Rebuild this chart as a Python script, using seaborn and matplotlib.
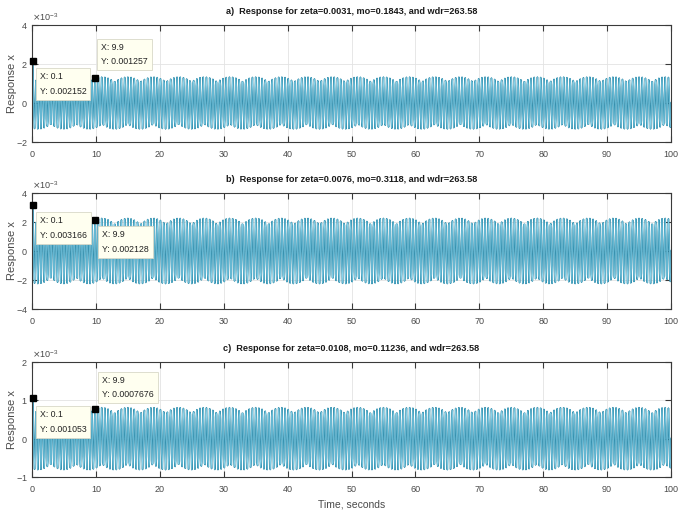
import numpy as np
import pandas as pd
import matplotlib
matplotlib.use("Agg")
import matplotlib.pyplot as plt
import seaborn as sns

# --- data -------------------------------------------------------------
panel_tags = ["a)", "b)", "c)"]
zeta_values = ["0.0031", "0.0076", "0.0108"]
mo_values = ["0.1843", "0.3118", "0.11236"]
wdr = 263.58                      # driving frequency, rad/s
dt = 0.1                          # output sample step, s
t_end = 100.0

# steady-state amplitude of the response in each case
amplitude = [1.33e-3, 2.25e-3, 0.81e-3]

# data tips (time, response)
tip_x = [0.1, 9.9]
tip_y = [
    [0.002152, 0.001257],
    [0.003166, 0.002128],
    [0.001053, 0.0007676],
]

y_ticks = [
    [-2e-3, 0, 2e-3, 4e-3],
    [-4e-3, -2e-3, 0, 2e-3, 4e-3],
    [-1e-3, 0, 1e-3, 2e-3],
]
x_ticks = list(range(0, 101, 10))

# tip box placement: (dx, dy) in pixels from the marker, vertical anchor
tip_layout = [
    [((7, -11), "top"), ((6, 12), "bottom")],
    [((7, -11), "top"), ((7, -10), "top")],
    [((7, -12), "top"), ((7, 10), "bottom")],
]


def response(amp, tips):
    """Steady forced response sampled at dt, anchored on the data tips."""
    t = np.round(np.arange(0, t_end + dt / 2, dt), 10)
    phase = np.arccos(np.clip(tips[1] / amp, -1, 1)) - wdr * tip_x[1]
    x = amp * np.cos(wdr * t + phase)
    for tx, ty in zip(tip_x, tips):
        x[np.argmin(np.abs(t - tx))] = ty
    return pd.DataFrame({"t": t, "x": x})


# --- figure -------------------------------------------------------------
sns.set_style("white")
plt.rcParams["font.family"] = ["Liberation Sans", "DejaVu Sans"]
plt.rcParams["axes.unicode_minus"] = False

W, H = 681, 516
fig = plt.figure(figsize=(W / 100, H / 100), dpi=100)

# axes boxes in pixels: (left, top, right, bottom)
boxes = [(32, 25, 671, 142), (32, 193, 671, 309), (32, 362, 671, 477)]

edge_color = "#2f8aa8"
fill_color = "#86d3ec"
axis_color = "#3a3a3a"
label_color = "#4a4a4a"

for i in range(3):
    l, t, r, b = boxes[i]
    ax = fig.add_axes([l / W, 1 - b / H, (r - l) / W, (b - t) / H])
    df = response(amplitude[i], tip_y[i])
    sns.lineplot(data=df, x="t", y="x", ax=ax, color=edge_color,
                 linewidth=1.1, estimator=None, sort=False)
    sns.lineplot(data=df, x="t", y="x", ax=ax, color=fill_color,
                 linewidth=0.45, estimator=None, sort=False)

    ax.set_xlim(0, 100)
    ax.set_ylim(y_ticks[i][0], y_ticks[i][-1])
    ax.set_xticks(x_ticks)
    ax.set_yticks(y_ticks[i])
    ax.ticklabel_format(style="sci", axis="y", scilimits=(0, 0), useMathText=True)
    ax.yaxis.get_offset_text().set_fontsize(6.5)
    ax.yaxis.get_offset_text().set_color(label_color)

    ax.grid(True, color="#e3e3e3", linewidth=0.6)
    ax.set_axisbelow(True)
    ax.tick_params(direction="in", length=4, width=0.8, color=axis_color,
                   labelsize=6.5, labelcolor=label_color, top=True, right=True,
                   bottom=True, left=True)
    ax.tick_params(axis="x", pad=6)
    ax.tick_params(axis="y", pad=3)
    for s in ax.spines.values():
        s.set_color(axis_color)
        s.set_linewidth(0.8)

    ax.set_xlabel("Time, seconds" if i == 2 else "", fontsize=7.5, color=label_color)
    ax.set_ylabel("Response x", fontsize=8, color=label_color)
    ax.yaxis.set_label_coords(-15 / (r - l), 0.5)
    ax.set_title(f"{panel_tags[i]}  Response for zeta={zeta_values[i]}, "
                 f"mo={mo_values[i]}, and wdr={wdr:.2f}",
                 fontsize=6.6, fontweight="bold", color="#1a1a1a", pad=8)

    # data tips
    for k in range(2):
        ax.plot(tip_x[k], tip_y[i][k], marker="s", color="black",
                markersize=5, zorder=5, clip_on=False)
        (dx, dy), va = tip_layout[i][k]
        ax.annotate(f"X: {tip_x[k]:g}\nY: {tip_y[i][k]:.7g}",
                    xy=(tip_x[k], tip_y[i][k]), xytext=(dx, dy),
                    textcoords="offset pixels", ha="left", va=va,
                    fontsize=6.3, color="#222222", linespacing=1.8, zorder=6,
                    bbox=dict(boxstyle="square,pad=0.45", facecolor="#fffff0",
                              edgecolor="#d8d8c8", linewidth=0.6))

fig.savefig("out.png", dpi=100)
